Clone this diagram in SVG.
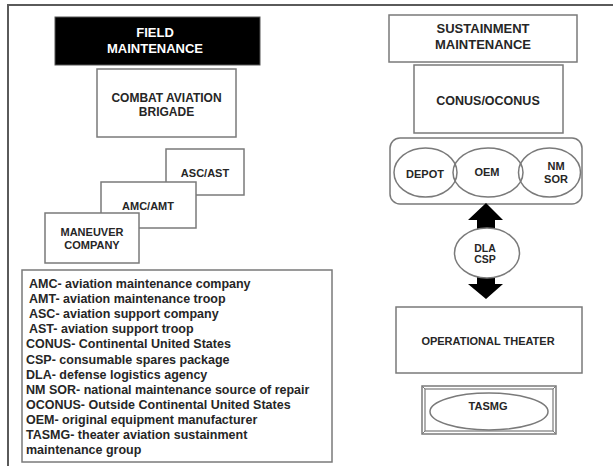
<svg xmlns="http://www.w3.org/2000/svg" width="613" height="466" viewBox="0 0 613 466">
<style>
text{font-family:"Liberation Sans",Arial,sans-serif;font-weight:bold;fill:#262626;text-anchor:middle}
.box{fill:#fff;stroke:#7a7a7a;stroke-width:1.5}
.lg{text-anchor:start;font-size:12.5px}
.n11{font-size:11px}
.arrow{fill:#000}
</style>
<rect width="613" height="466" fill="#fff"/>
<rect x="8" y="5" width="700" height="520" fill="none" stroke="#5a5a5a" stroke-width="2"/>

<g id="field-maintenance">
<rect x="55" y="17" width="205" height="48" fill="#000" stroke="#555" stroke-width="1"/>
<text x="155" y="37" font-size="13" style="fill:#fff">FIELD</text>
<text x="155" y="53" font-size="13" style="fill:#fff">MAINTENANCE</text>
</g>
<g id="combat-aviation-brigade">
<rect class="box" x="97" y="69" width="139" height="68"/>
<text x="166.5" y="102" font-size="12">COMBAT AVIATION</text>
<text x="166.5" y="116" font-size="12">BRIGADE</text>
</g>
<g id="asc-ast">
<rect class="box" x="166" y="149" width="78" height="46"/>
<text class="n11" x="205" y="177">ASC/AST</text>
</g>
<g id="amc-amt">
<rect class="box" x="101" y="182" width="95" height="46"/>
<text class="n11" x="148" y="210">AMC/AMT</text>
</g>
<g id="maneuver-company">
<rect class="box" x="45" y="213" width="94" height="50"/>
<text class="n11" x="92" y="236">MANEUVER</text>
<text class="n11" x="92" y="249">COMPANY</text>
</g>
<g id="legend">
<rect class="box" x="22" y="270" width="310" height="192"/>
<text class="lg" x="29" y="288">AMC- aviation maintenance company</text>
<text class="lg" x="29" y="303.1">AMT- aviation maintenance troop</text>
<text class="lg" x="29" y="318.2">ASC- aviation support company</text>
<text class="lg" x="29" y="333.3">AST- aviation support troop</text>
<text class="lg" x="26" y="348.4">CONUS- Continental United States</text>
<text class="lg" x="26" y="363.5">CSP- consumable spares package</text>
<text class="lg" x="26" y="378.6">DLA- defense logistics agency</text>
<text class="lg" x="26" y="393.7">NM SOR- national maintenance source of repair</text>
<text class="lg" x="26" y="408.8">OCONUS- Outside Continental United States</text>
<text class="lg" x="26" y="423.9">OEM- original equipment manufacturer</text>
<text class="lg" x="26" y="439">TASMG- theater aviation sustainment</text>
<text class="lg" x="26" y="454.1">maintenance group</text>
</g>

<g id="sustainment-maintenance">
<rect class="box" x="389" y="15" width="188" height="47"/>
<text x="483" y="33" font-size="13">SUSTAINMENT</text>
<text x="483" y="49" font-size="13">MAINTENANCE</text>
</g>
<g id="conus-oconus">
<rect class="box" x="414" y="65" width="149" height="68"/>
<text x="488" y="104.5" font-size="12.5">CONUS/OCONUS</text>
</g>
<g id="providers">
<rect class="box" x="390" y="138" width="192" height="66" rx="10"/>
<g id="depot">
<ellipse cx="425.5" cy="172.5" rx="31.5" ry="24.5" fill="none" stroke="#7a7a7a" stroke-width="1.5"/>
<text class="n11" x="425" y="178">DEPOT</text>
</g>
<g id="oem">
<ellipse cx="488" cy="172.5" rx="35" ry="24.5" fill="none" stroke="#7a7a7a" stroke-width="1.5"/>
<text class="n11" x="487" y="176">OEM</text>
</g>
<g id="nm-sor">
<ellipse cx="549.5" cy="172.5" rx="31" ry="24.5" fill="none" stroke="#7a7a7a" stroke-width="1.5"/>
<text class="n11" x="556" y="170">NM</text>
<text class="n11" x="556" y="183">SOR</text>
</g>
</g>

<g id="connectors">
<polygon class="arrow" points="486,203 503,220 495,220 495,232 477,232 477,220 468,220"/>
<polygon class="arrow" points="477,274 495,274 495,284 503,284 486,299 468,284 477,284"/>
</g>

<g id="dla-csp">
<ellipse cx="487" cy="253" rx="32.5" ry="25" fill="#fff" stroke="#7a7a7a" stroke-width="1.5"/>
<text x="485" y="252" font-size="10.5">DLA</text>
<text x="485" y="263" font-size="10.5">CSP</text>
</g>
<g id="operational-theater">
<rect class="box" x="396" y="307" width="186" height="66"/>
<text class="n11" x="488" y="345">OPERATIONAL THEATER</text>
</g>
<g id="tasmg">
<rect class="box" x="422" y="386" width="134" height="48"/>
<rect x="425" y="389" width="128" height="42" fill="none" stroke="#7a7a7a" stroke-width="1.2"/>
<path d="M422,386 L425,389 M556,386 L553,389 M422,434 L425,431 M556,434 L553,431" stroke="#7a7a7a" stroke-width="1"/>
<ellipse cx="489" cy="411.5" rx="59" ry="18.5" fill="none" stroke="#7a7a7a" stroke-width="1.5"/>
<text class="n11" x="488" y="410">TASMG</text>
</g>
</svg>
